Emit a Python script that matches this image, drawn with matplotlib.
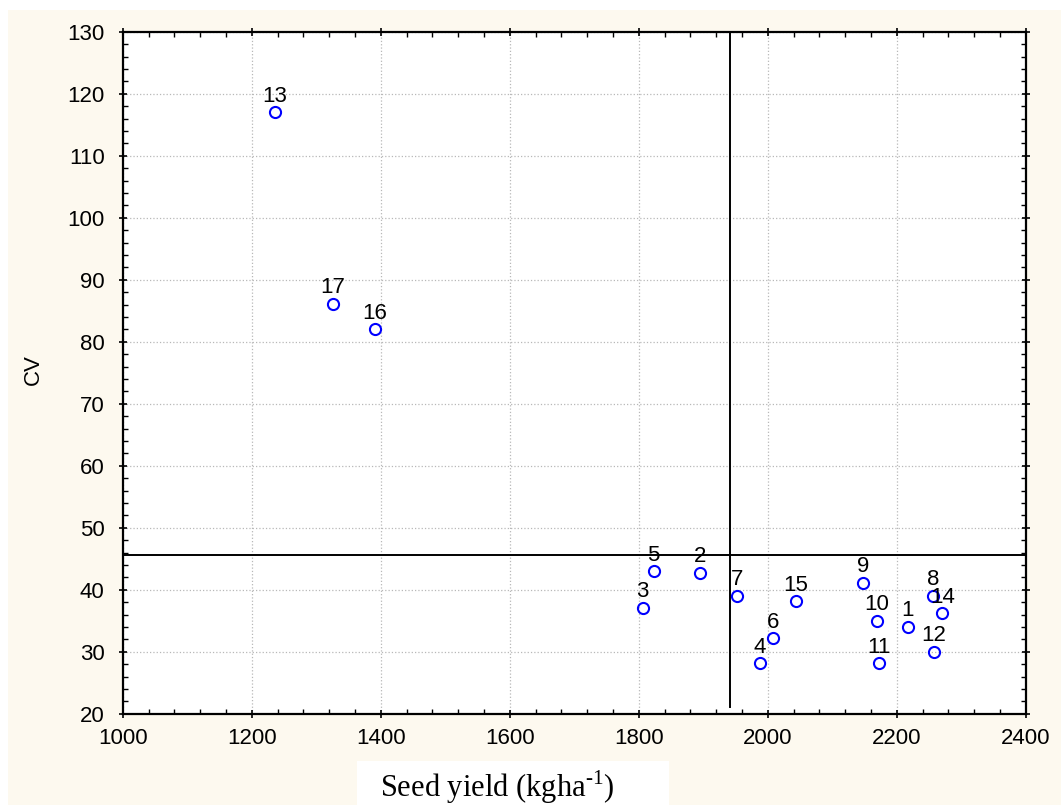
import matplotlib
matplotlib.use("Agg")
import matplotlib.pyplot as plt
from matplotlib.patches import Rectangle
from matplotlib.ticker import MultipleLocator

# Data
genotypes = ["1", "2", "3", "4", "5", "6", "7", "8", "9", "10", "11", "12", "13", "14", "15", "16", "17"]
seed_yield = [2217, 1895, 1806, 1988, 1823, 2008, 1952, 2257, 2148, 2169, 2172, 2258, 1236, 2271, 2044, 1391, 1326]
cv_values = [34.0, 42.7, 37.1, 28.1, 43.0, 32.2, 39.0, 39.0, 41.1, 35.0, 28.1, 30.0, 117.0, 36.2, 38.1, 82.0, 86.1]
mean_yield = 1941
mean_cv = 45.6
x_ticks = [1000, 1200, 1400, 1600, 1800, 2000, 2200, 2400]
y_ticks = [20, 30, 40, 50, 60, 70, 80, 90, 100, 110, 120, 130]

plt.rcParams['font.family'] = ['Liberation Sans', 'DejaVu Sans']
plt.rcParams['mathtext.fontset'] = 'custom'
plt.rcParams['mathtext.rm'] = 'Liberation Serif'

W, H = 1061, 805
fig = plt.figure(figsize=(W / 100, H / 100), dpi=100)
fig.patch.set_facecolor('white')
fig.patches.append(Rectangle((8 / W, 0), 1 - 8 / W, 1 - 10 / H, transform=fig.transFigure,
                             facecolor='#fdf9ef', edgecolor='none', zorder=-10))

ax = fig.add_axes([122.7 / W, (H - 713.7) / H, (1025.7 - 122.7) / W, (713.7 - 31.7) / H])
ax.set_facecolor('white')

ax.set_xlim(1000, 2400)
ax.set_ylim(20, 130)
ax.set_xticks(x_ticks)
ax.set_yticks(y_ticks)
ax.xaxis.set_minor_locator(MultipleLocator(40))
ax.yaxis.set_minor_locator(MultipleLocator(2))

ax.grid(True, which='major', linestyle=':', color='#b8b8b8', linewidth=0.9)
ax.set_axisbelow(True)

for s in ax.spines.values():
    s.set_linewidth(1.6)
    s.set_color('black')

ax.tick_params(which='major', direction='inout', length=6, width=1.2, labelsize=16,
               top=True, right=True, bottom=True, left=True)
ax.tick_params(which='minor', direction='in', length=3.5, width=1.0,
               top=True, right=True, bottom=True, left=True)
ax.tick_params(axis='x', which='major', pad=7)
ax.tick_params(axis='y', which='major', pad=10)

# reference lines
ax.axhline(mean_cv, color='black', linewidth=1.4, zorder=2)
ax.axvline(mean_yield, ymin=0.01, ymax=1.0, color='black', linewidth=1.4, zorder=2)

ax.plot(seed_yield, cv_values, linestyle='none', marker='o', markersize=8,
        markerfacecolor='none', markeredgecolor='#0000ff', markeredgewidth=1.5, zorder=3)

for g, xv, yv in zip(genotypes, seed_yield, cv_values):
    ax.annotate(g, (xv, yv), xytext=(0, 4), textcoords='offset points',
                ha='center', va='bottom', fontsize=16, color='black', zorder=4)

ax.set_ylabel('CV', fontsize=16)
ax.yaxis.set_label_coords((44 - 122.7) / (1025.7 - 122.7), (713.7 - 370) / (713.7 - 31.7))

# x label with white box behind it
fig.patches.append(Rectangle((357 / W, 0), (669 - 357) / W, (H - 761) / H, transform=fig.transFigure,
                             facecolor='white', edgecolor='none', zorder=-5))
fig.text(497 / W, (H - 797) / H, r'Seed yield (kgha$^{\text{-1}}$)',
         family='Liberation Serif', fontsize=22, ha='center', va='baseline')

fig.savefig('out.png', dpi=100, facecolor=fig.get_facecolor())
